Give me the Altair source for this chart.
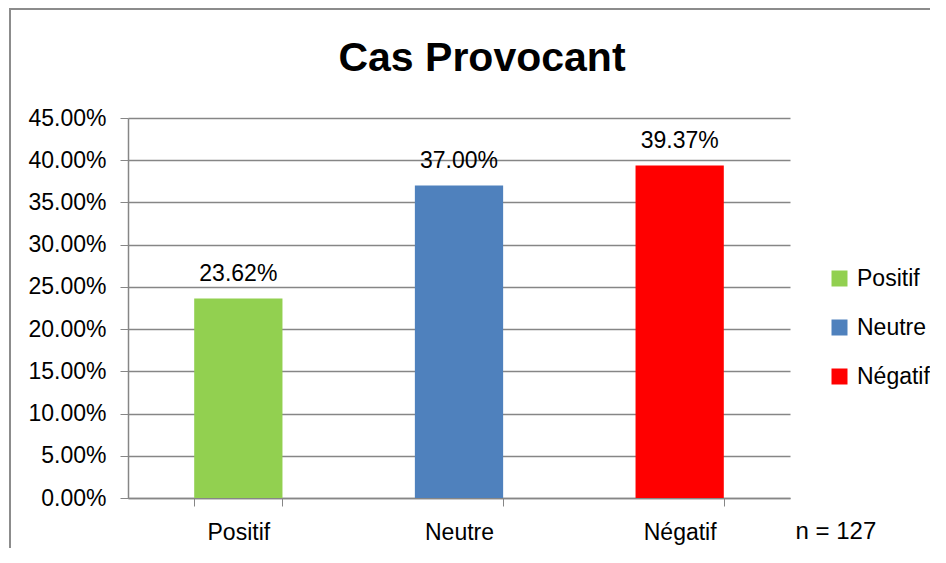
import altair as alt
import pandas as pd

categories = ["Positif", "Neutre", "Négatif"]
values = [0.2362, 0.3700, 0.3937]
colors = ["#92D050", "#4F81BD", "#FF0000"]
y_ticks = [0.0, 0.05, 0.10, 0.15, 0.20, 0.25, 0.30, 0.35, 0.40, 0.45]
title_text = "Cas Provocant"
n_text = "n = 127"

df = pd.DataFrame({"cat": categories, "val": values})

FONT = "Liberation Sans"
GRAY = "#868686"

x_enc = alt.X(
    "cat:N",
    sort=categories,
    scale=alt.Scale(paddingInner=0.6, paddingOuter=0.3),
    axis=alt.Axis(
        title=n_text,
        titleX=667,
        titleY=33,
        titleAlign="left",
        titleBaseline="middle",
        titleFontWeight="normal",
        titleFontSize=24,
        titleFont=FONT,
        titleColor="black",
        labelAngle=0,
        labelFontSize=23,
        labelFont=FONT,
        labelColor="black",
        labelPadding=15,
        tickBand="extent",
        tickSize=8,
        tickColor=GRAY,
        domainColor=GRAY,
        domainWidth=1.5,
        grid=False,
    ),
)

y_enc = alt.Y(
    "val:Q",
    scale=alt.Scale(domain=[0, 0.45], nice=False),
    axis=alt.Axis(
        title=None,
        values=y_ticks,
        format=".2%",
        labelFontSize=23,
        labelFont=FONT,
        labelColor="black",
        labelPadding=14,
        tickSize=8,
        tickColor=GRAY,
        domainColor=GRAY,
        domainWidth=1.5,
        gridColor=GRAY,
        gridWidth=1.5,
    ),
)

color_enc = alt.Color(
    "cat:N",
    sort=categories,
    scale=alt.Scale(domain=categories, range=colors),
    legend=alt.Legend(
        title=None,
        orient="none",
        legendX=700,
        legendY=149,
        symbolType="square",
        symbolSize=256,
        symbolStrokeWidth=0,
        labelFontSize=23,
        labelFont=FONT,
        labelColor="black",
        labelOffset=6,
        rowPadding=25,
    ),
)

base = alt.Chart(df)

bars = base.mark_bar().encode(x=x_enc, y=y_enc, color=color_enc)

labels = base.mark_text(
    baseline="alphabetic", dy=-18, fontSize=23, font=FONT, color="black"
).encode(
    x=alt.X("cat:N", sort=categories),
    y="val:Q",
    text=alt.Text("val:Q", format=".2%"),
)

border = alt.Chart(alt.Data(values=[{"a": 1}])).mark_rect(
    fill="white", fillOpacity=0, stroke="#8c8c8c", strokeWidth=2
).encode(
    x=alt.value(-118), x2=alt.value(900), y=alt.value(-109), y2=alt.value(500)
)

title = alt.Chart(alt.Data(values=[{"t": title_text}])).mark_text(
    font=FONT,
    fontSize=41,
    fontWeight="bold",
    color="black",
    align="center",
    baseline="alphabetic",
).encode(
    text="t:N",
    x=alt.value(354),
    y=alt.value(-47),
)

chart = alt.layer(border, bars, labels, title).properties(
    width=662,
    height=380,
    autosize=alt.AutoSizeParams(type="none"),
    padding={"left": 120, "top": 110, "right": 140, "bottom": 50},
).configure_view(stroke=None)

chart.save("out.html", embed_options={"renderer": "svg", "actions": False})
